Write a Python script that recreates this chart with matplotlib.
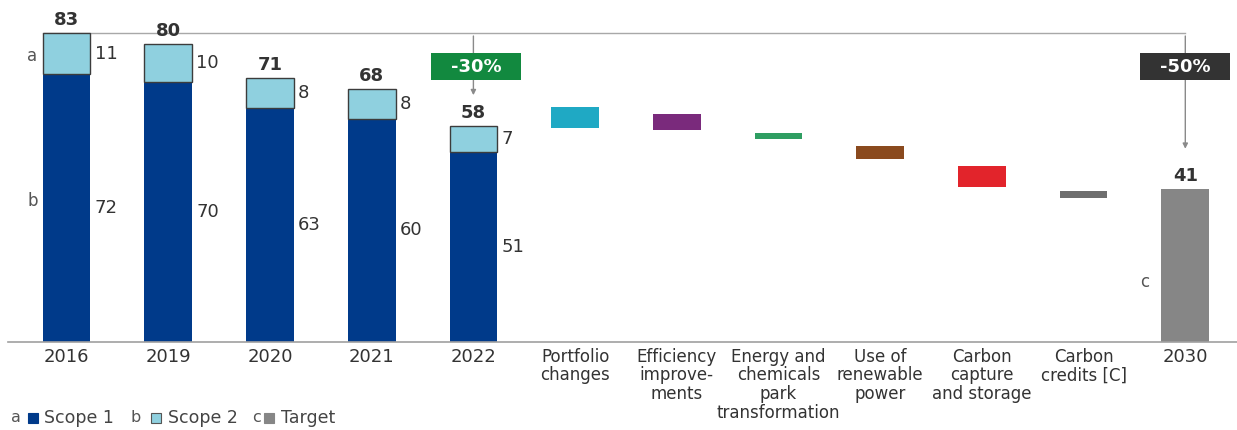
import matplotlib
matplotlib.use("Agg")
import matplotlib.pyplot as plt
from matplotlib.patches import Rectangle
import numpy as np

plt.rcParams['font.family'] = ['DejaVu Sans']

# ---------------- data ----------------
years = ["2016", "2019", "2020", "2021", "2022"]
scope1 = [72, 70, 63, 60, 51]
scope2 = [11, 10, 8, 8, 7]
totals = [83, 80, 71, 68, 58]

levers = ["Portfolio\nchanges", "Efficiency\nimprove-\nments",
          "Energy and\nchemicals\npark\ntransformation",
          "Use of\nrenewable\npower", "Carbon\ncapture\nand storage",
          "Carbon\ncredits [C]"]
lever_high = [63.3, 61.4, 56.1, 52.7, 47.4, 40.6]
lever_low = [57.5, 57.0, 54.6, 49.3, 41.6, 38.6]
lever_colors = ["#1fa9c4", "#7a2a7c", "#2f9e62", "#8a4a1e", "#e2242b", "#6e6e6e"]

target_label = "2030"
target_value = 41

reduction_2022 = "-30%"
reduction_2030 = "-50%"

legend_items = [("a", "Scope 1"), ("b", "Scope 2"), ("c", "Target")]

# ---------------- style ----------------
NAVY = "#003a8a"
LIGHT = "#8fd0df"
GREY = "#868686"
TXT = "#333333"

W, H = 1237, 430
fig = plt.figure(figsize=(W / 100, H / 100), dpi=100)
base_px = 342
ppu = 3.72
ax = fig.add_axes([0, (H - base_px) / H, 1, base_px / H])
ax.set_ylim(0, base_px / ppu)
x0, dx = 66.6, 101.7
ax.set_xlim(-x0 / dx, (W - x0) / dx)
for s in ax.spines.values():
    s.set_visible(False)
ax.set_yticks([])

bw = 0.47
xy = np.arange(len(years))
ax.bar(xy, scope1, width=bw, color=NAVY, zorder=2)
ax.bar(xy, scope2, width=bw, bottom=scope1, color=LIGHT, edgecolor="#3c3c3c",
       linewidth=1.0, zorder=3)

for i in range(len(years)):
    ax.text(xy[i] + bw / 2 + 0.04, scope1[i] / 2, str(scope1[i]), ha="left",
            va="center", fontsize=13, color=TXT)
    ax.text(xy[i] + bw / 2 + 0.04, scope1[i] + scope2[i] / 2, str(scope2[i]),
            ha="left", va="center", fontsize=13, color=TXT)
    ax.annotate(str(totals[i]), (xy[i], totals[i]), xytext=(0, 3),
                textcoords="offset points", ha="center", va="bottom",
                fontsize=13, fontweight="bold", color=TXT)

xl = np.arange(len(years), len(years) + len(levers))
ax.bar(xl, np.array(lever_high) - np.array(lever_low), bottom=lever_low,
       width=bw, color=lever_colors, zorder=2)

xt = len(years) + len(levers)
ax.bar([xt], [target_value], width=bw, color=GREY, zorder=2)
ax.annotate(str(target_value), (xt, target_value), xytext=(0, 3),
            textcoords="offset points", ha="center", va="bottom",
            fontsize=13, fontweight="bold", color=TXT)

# letters
ax.text(-bw / 2 - 0.05, scope1[0] + scope2[0] / 2 - 0.5, "a", ha="right",
        va="center", fontsize=12, color="#555555")
ax.text(-bw / 2 - 0.05, scope1[0] / 2 + 2, "b", ha="right", va="center",
        fontsize=12, color="#555555")
ax.text(xt - bw / 2 - 0.12, 16, "c", ha="right", va="center",
        fontsize=12, color="#555555")

# baseline
ax.axhline(0, xmin=8 / W, xmax=1, color="#a0a0a0", lw=1.2, zorder=4,
           clip_on=False)

# top reference line and arrows
ax.plot([-bw / 2, xt], [totals[0], totals[0]], color="#a8a8a8", lw=1.0,
        zorder=1)
ax.annotate("", xy=(4, totals[4] + 7.6), xytext=(4, totals[0]),
            arrowprops=dict(arrowstyle="-|>,head_width=0.15,head_length=0.3",
                            color="#8a8a8a", lw=1.0), zorder=1)
ax.annotate("", xy=(xt, target_value + 10.2), xytext=(xt, totals[0]),
            arrowprops=dict(arrowstyle="-|>,head_width=0.15,head_length=0.3",
                            color="#8a8a8a", lw=1.0), zorder=1)

bwid, bhgt = 90 / dx, 27 / ppu
for cx, lab, col in [(4.03, reduction_2022, "#12893f"),
                     (xt, reduction_2030, "#333333")]:
    ax.add_patch(Rectangle((cx - bwid / 2, 74 - bhgt / 2), bwid, bhgt,
                           facecolor=col, edgecolor="none", zorder=5))
    ax.text(cx, 74, lab, ha="center", va="center", color="white",
            fontsize=13, fontweight="bold", zorder=6)

# x tick labels
ax.set_xticks(list(xy) + list(xl) + [xt])
ax.set_xticklabels(years + levers + [target_label], fontsize=12, color=TXT,
                   linespacing=1.05)
ax.tick_params(axis="x", length=0, pad=4)
for lbl in ax.get_xticklabels()[:5] + ax.get_xticklabels()[-1:]:
    lbl.set_fontsize(13)

# legend
ly = 1 - 418 / H
def px(x):
    return x / W
sq = [NAVY, LIGHT, GREY]
pos = [(11, 28, 44), (131, 151, 168), (252, 264, 281)]
for (letter, name), c, (lx, sx, tx) in zip(legend_items, sq, pos):
    fig.text(px(lx), ly, letter, ha="left", va="center", fontsize=11.5,
             color="#555555")
    fig.patches.append(Rectangle((px(sx), ly - 5 / H), 10 / W, 10 / H,
                                 transform=fig.transFigure,
                                 facecolor=c,
                                 edgecolor="#555555" if c == LIGHT else c,
                                 lw=0.8, figure=fig))
    fig.text(px(tx), ly, name, ha="left", va="center", fontsize=12.5,
             color="#444444")

fig.savefig("out.png", dpi=100, facecolor="white")
